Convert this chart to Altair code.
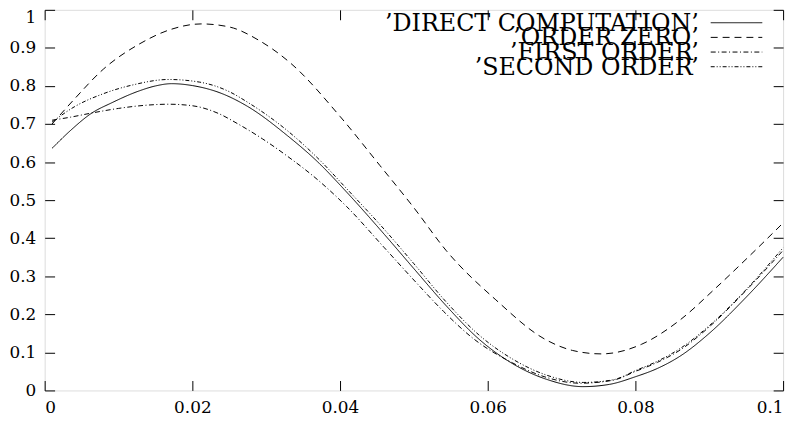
import altair as alt
import pandas as pd

# ---------------- data ----------------
series_names = ["’DIRECT COMPUTATION’", "’ORDER ZERO’", "’FIRST ORDER’", "’SECOND ORDER’"]

direct_x = [0.001, 0.0035, 0.0064, 0.009, 0.0128, 0.0150, 0.0172, 0.0200, 0.0240, 0.0275, 0.0329,
            0.0370, 0.0409, 0.0460, 0.0500, 0.0544, 0.0588, 0.0634, 0.0680, 0.0729, 0.0765, 0.0800,
            0.0830, 0.0862, 0.0900, 0.0950, 0.1000]
direct_y = [0.636, 0.683, 0.729, 0.755, 0.787, 0.800, 0.806, 0.801, 0.780, 0.746, 0.669,
            0.600, 0.521, 0.410, 0.320, 0.222, 0.135, 0.070, 0.029, 0.010, 0.016, 0.036,
            0.058, 0.092, 0.150, 0.245, 0.350]

zero_x = [0.001, 0.004, 0.008, 0.0128, 0.017, 0.0212, 0.025, 0.029, 0.0333, 0.040, 0.0454, 0.050,
          0.0544, 0.0611, 0.0678, 0.0715, 0.0754, 0.0808, 0.0861, 0.0906, 0.095, 0.100]
zero_y = [0.700, 0.765, 0.845, 0.910, 0.948, 0.963, 0.955, 0.920, 0.860, 0.720, 0.591, 0.480,
          0.367, 0.238, 0.134, 0.105, 0.096, 0.121, 0.186, 0.264, 0.345, 0.440]

first_x = [0.001, 0.0035, 0.0064, 0.010, 0.0135, 0.0168, 0.020, 0.0235, 0.0262, 0.0295, 0.0329,
           0.037, 0.0409, 0.046, 0.050, 0.054, 0.058, 0.0634, 0.068, 0.0725, 0.077, 0.080, 0.083,
           0.0862, 0.090, 0.095, 0.100]
first_y = [0.710, 0.718, 0.729, 0.741, 0.749, 0.752, 0.748, 0.728, 0.700, 0.661, 0.615,
           0.553, 0.483, 0.375, 0.290, 0.208, 0.137, 0.072, 0.034, 0.019, 0.027, 0.050, 0.074,
           0.108, 0.167, 0.263, 0.368]

second_x = [0.001, 0.004, 0.008, 0.012, 0.0168, 0.021, 0.025, 0.0275, 0.0329, 0.037, 0.0409, 0.046,
            0.050, 0.0544, 0.0588, 0.0634, 0.068, 0.073, 0.077, 0.080, 0.083, 0.0862, 0.090, 0.095,
            0.100]
second_y = [0.705, 0.745, 0.780, 0.803, 0.817, 0.810, 0.785, 0.757, 0.682, 0.610, 0.530, 0.423,
            0.333, 0.232, 0.146, 0.082, 0.040, 0.021, 0.028, 0.052, 0.077, 0.112, 0.170, 0.265,
            0.375]

x_ticks = [0, 0.02, 0.04, 0.06, 0.08, 0.1]
y_ticks = [0, 0.1, 0.2, 0.3, 0.4, 0.5, 0.6, 0.7, 0.8, 0.9, 1.0]

# ---------------- build tables ----------------
frames = []
for name, xs, ys in zip(series_names,
                        [direct_x, zero_x, first_x, second_x],
                        [direct_y, zero_y, first_y, second_y]):
    frames.append(pd.DataFrame({"series": name, "t": xs, "v": ys}))
df = pd.concat(frames, ignore_index=True)

legend_df = pd.DataFrame({"series": series_names, "row": list(range(len(series_names)))})

# ---------------- styles ----------------
dashes = [[1, 0], [7, 5], [5, 2.5, 1, 2.5], [4, 2, 1, 2, 1, 2]]
FONT = "DejaVu Serif"
W, H = 745, 384

dash_enc = alt.StrokeDash("series:N", scale=alt.Scale(domain=series_names, range=dashes), legend=None)
x_scale = alt.Scale(domain=[0, 0.1], nice=False, zero=False)
y_scale = alt.Scale(domain=[0, 1], nice=False, zero=False)

common_axis = dict(tickSize=10, offset=-10, domain=False, grid=False, title=None,
                   tickColor="black", tickWidth=1, labelFont=FONT, labelFontSize=17,
                   labelColor="black", format="~g")

lines = alt.Chart(df).mark_line(color="black", strokeWidth=1, interpolate="monotone").encode(
    x=alt.X("t:Q", scale=x_scale,
            axis=alt.Axis(orient="bottom", values=x_ticks, labelPadding=9, **common_axis)),
    y=alt.Y("v:Q", scale=y_scale,
            axis=alt.Axis(orient="left", values=y_ticks, labelPadding=9,
                          labelBaseline=alt.expr("datum.value == 1 ? 'top' : 'middle'"),
                          **common_axis)),
    strokeDash=dash_enc,
    detail="series:N",
)

mirror = alt.Chart(df).mark_point(opacity=0).encode(
    x=alt.X("t:Q", scale=x_scale,
            axis=alt.Axis(orient="top", values=x_ticks, labels=False, **common_axis)),
    y=alt.Y("v:Q", scale=y_scale,
            axis=alt.Axis(orient="right", values=y_ticks, labels=False, **common_axis)),
)

legend_text = alt.Chart(legend_df).transform_calculate(
    ty="13 + 14.8 * datum.row + 8"
).mark_text(align="right", baseline="alphabetic", font=FONT, fontSize=24, color="black").encode(
    x=alt.value(660),
    y=alt.Y("ty:Q", scale=None, axis=None),
    text="series:N",
)

legend_lines = alt.Chart(legend_df).transform_calculate(
    ly="13 + 14.8 * datum.row"
).mark_rule(color="black", strokeWidth=1).encode(
    x=alt.value(672),
    x2=alt.value(724),
    y=alt.Y("ly:Q", scale=None, axis=None),
    strokeDash=dash_enc,
)

chart = alt.layer(lines, mirror, legend_text, legend_lines).properties(
    width=W, height=H,
    autosize=alt.AutoSizeParams(type="none"),
    padding={"left": 37, "top": 0, "right": 10, "bottom": 31},
).configure_view(stroke="black", strokeWidth=1).configure(background="white")

chart.save("out.html", embed_options={"renderer": "svg", "actions": False})
